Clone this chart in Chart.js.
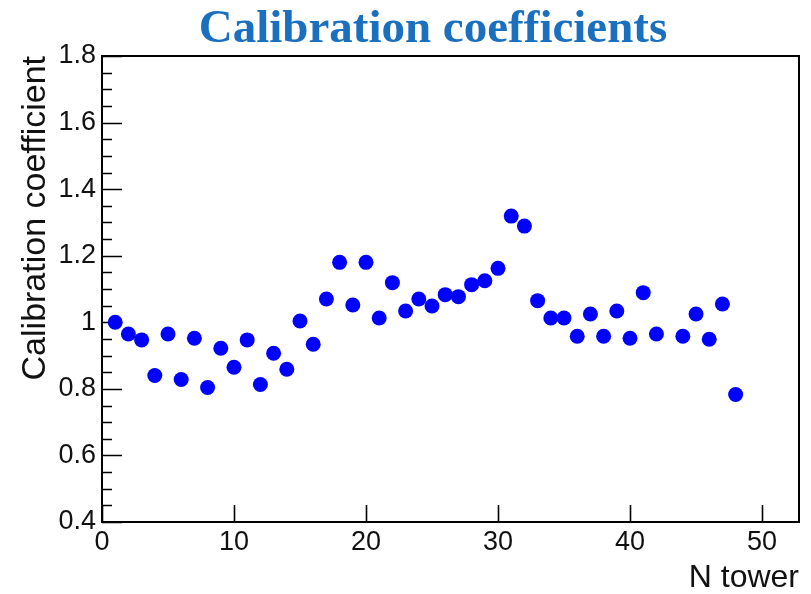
<!DOCTYPE html>
<html>
<head>
<meta charset="utf-8">
<title>Calibration coefficients</title>
<script src="https://cdn.jsdelivr.net/npm/chart.js@4"></script>
<style>
  html, body { margin: 0; padding: 0; background: #fff; }
  canvas { display: block; }
</style>
</head>
<body>
<canvas id="calibChart" width="811" height="594"></canvas>
<script>
// Data (tower 43 has no point)
const towers = [1, 2, 3, 4, 5, 6, 7, 8, 9, 10, 11, 12, 13, 14, 15, 16, 17, 18, 19, 20,
                21, 22, 23, 24, 25, 26, 27, 28, 29, 30, 31, 32, 33, 34, 35, 36, 37, 38, 39, 40,
                41, 42, 44, 45, 46, 47, 48];
const coefficients = [1.000, 0.965, 0.947, 0.840, 0.965, 0.828, 0.952, 0.804, 0.922, 0.865,
                      0.947, 0.813, 0.907, 0.859, 1.004, 0.934, 1.070, 1.180, 1.052, 1.180,
                      1.013, 1.119, 1.034, 1.070, 1.049, 1.083, 1.077, 1.113, 1.125, 1.162,
                      1.319, 1.289, 1.065, 1.013, 1.013, 0.958, 1.025, 0.958, 1.034, 0.952,
                      1.089, 0.965, 0.958, 1.025, 0.949, 1.055, 0.783];

const xTicks = [0, 10, 20, 30, 40, 50];
const yTicks = [0.4, 0.6, 0.8, 1.0, 1.2, 1.4, 1.6, 1.8];
const yMinorTicks = [0.45, 0.5, 0.55, 0.65, 0.7, 0.75, 0.85, 0.9, 0.95, 1.05, 1.1, 1.15,
                     1.25, 1.3, 1.35, 1.45, 1.5, 1.55, 1.65, 1.7, 1.75];

const chartTitle = 'Calibration coefficients';
const xTitle = 'N tower';
const yTitle = 'Calibration coefficient';

const sansFont = 'Liberation Sans, Arial, Helvetica, sans-serif';

// ROOT-style frame with inward ticks, plus the big serif title
const rootFramePlugin = {
    id: 'rootFrame',
    beforeDatasetsDraw(chart) {
        const { ctx, chartArea: a, scales: { x, y } } = chart;
        ctx.save();
        ctx.strokeStyle = '#000';
        ctx.lineWidth = 2;
        ctx.strokeRect(a.left, a.top, a.right - a.left, a.bottom - a.top);

        ctx.lineWidth = 1.6;
        ctx.beginPath();
        xTicks.forEach(v => {
            const px = Math.round(x.getPixelForValue(v)) + 0.5;
            ctx.moveTo(px, a.bottom);
            ctx.lineTo(px, a.bottom - 17);
        });
        yTicks.forEach(v => {
            const py = Math.round(y.getPixelForValue(v)) + 0.5;
            ctx.moveTo(a.left, py);
            ctx.lineTo(a.left + 20, py);
        });
        yMinorTicks.forEach(v => {
            const py = Math.round(y.getPixelForValue(v)) + 0.5;
            ctx.moveTo(a.left, py);
            ctx.lineTo(a.left + 10, py);
        });
        ctx.stroke();
        ctx.restore();
    },
    afterDraw(chart) {
        const { ctx } = chart;
        ctx.save();
        ctx.fillStyle = '#1a70bf';
        ctx.font = 'bold 47px "Liberation Serif", "Times New Roman", serif';
        ctx.textAlign = 'center';
        ctx.textBaseline = 'alphabetic';
        ctx.fillText(chartTitle, 433, 42);
        ctx.restore();
    }
};

const ctx = document.getElementById('calibChart').getContext('2d');
const chart = new Chart(ctx, {
    type: 'scatter',
    data: {
        datasets: [{
            label: yTitle,
            data: towers.map((t, i) => ({ x: t, y: coefficients[i] })),
            backgroundColor: '#0000ff',
            borderColor: '#0000ff',
            borderWidth: 0,
            pointRadius: 7.5,
            pointHoverRadius: 7.5
        }]
    },
    options: {
        responsive: false,
        animation: false,
        devicePixelRatio: 1,
        layout: { padding: { left: 8, right: 12, top: 56, bottom: 0 } },
        plugins: {
            legend: { display: false },
            tooltip: { enabled: false }
        },
        scales: {
            x: {
                type: 'linear',
                min: 0,
                max: 52.8,
                grid: { display: false, drawTicks: false },
                border: { display: false },
                afterBuildTicks: scale => { scale.ticks = xTicks.map(v => ({ value: v })); },
                afterFit: scale => { scale.height = 594 - 522; },
                ticks: { color: '#111', font: { family: sansFont, size: 27 }, padding: 4, maxRotation: 0, autoSkip: false },
                title: { display: true, text: xTitle, align: 'end', color: '#111',
                         font: { family: sansFont, size: 32, lineHeight: 1.0 }, padding: { top: 0, bottom: 0 } }
            },
            y: {
                type: 'linear',
                min: 0.4,
                max: 1.8,
                grid: { display: false, drawTicks: false },
                border: { display: false },
                afterBuildTicks: scale => { scale.ticks = yTicks.map(v => ({ value: v })); },
                afterFit: scale => { scale.width = 102 - 8; },
                ticks: { color: '#111', font: { family: sansFont, size: 27 }, padding: 6,
                         callback: value => (Math.abs(value - 1) < 1e-9 ? '1' : value.toFixed(1)) },
                title: { display: true, text: yTitle, align: 'end', color: '#111',
                         font: { family: sansFont, size: 34, lineHeight: 1.0 }, padding: { top: 11, bottom: 0 } }
            }
        }
    },
    plugins: [rootFramePlugin]
});
</script>
</body>
</html>
